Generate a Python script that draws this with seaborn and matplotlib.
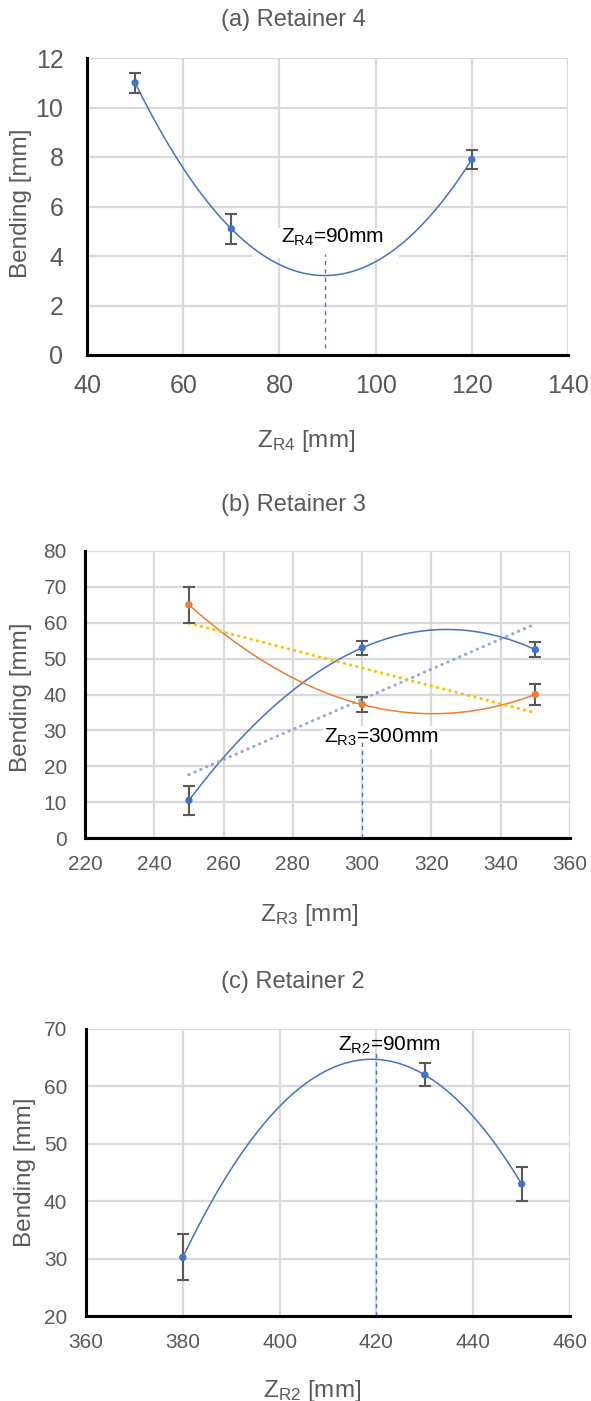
import numpy as np
import matplotlib
matplotlib.use('Agg')
import matplotlib.pyplot as plt
from matplotlib.patches import Rectangle
import seaborn as sns

# ---------------- data ----------------
# (a) Retainer 4
zr4 = [50, 70, 120]
bend_r4 = [11.0, 5.1, 7.9]
err_r4 = [0.4, 0.6, 0.4]

# (b) Retainer 3
zr3 = [250, 300, 350]
bend_r3_blue = [10.5, 53.0, 52.5]
err_r3_blue = [4.0, 2.0, 2.0]
bend_r3_orange = [65.0, 37.2, 40.0]
err_r3_orange = [5.0, 2.0, 3.0]

# (c) Retainer 2
zr2 = [380, 430, 450]
bend_r2 = [30.2, 62.0, 43.0]
err_r2 = [4.0, 2.0, 3.0]

titles = ['(a) Retainer 4', '(b) Retainer 3', '(c) Retainer 2']
xlabels = [r'$Z_{R4}$ [mm]', r'$Z_{R3}$ [mm]', r'$Z_{R2}$ [mm]']
ylabel = 'Bending [mm]'
notes = [r'$Z_{R4}$=90mm', r'$Z_{R3}$=300mm', r'$Z_{R2}$=90mm']
opt_x = [89.5, 300, 420]
opt_span = [(0.3, 4.1), (0.0, 28.0), (20.0, 65.8)]
note_pos = [(91, 4.53), (305.6, 26.6), (422.8, 66.2)]

xlims = [(40, 140), (220, 360), (360, 460)]
ylims = [(0, 12), (0, 80), (20, 70)]
xticks = [np.arange(40, 141, 20), np.arange(220, 361, 20), np.arange(360, 461, 20)]
yticks = [np.arange(0, 13, 2), np.arange(0, 81, 10), np.arange(20, 71, 10)]

# ---------------- style ----------------
sns.set_theme(style='whitegrid')
plt.rcParams['font.family'] = ['Liberation Sans', 'DejaVu Sans']
plt.rcParams['mathtext.default'] = 'regular'
plt.rcParams['axes.axisbelow'] = True

BLUE = '#4472C4'
ORANGE = '#ED7D31'
GOLD = '#FFC000'
LBLUE = '#8EA9DB'
GRAY = '#595959'
GRID = '#D9D9D9'

fig = plt.figure(figsize=(5.91, 14.01), dpi=100)

rects = [
    [87 / 591, 1 - 355 / 1401, 481 / 591, 297 / 1401],
    [85 / 591, 1 - 838 / 1401, 485 / 591, 287 / 1401],
    [86 / 591, 1 - 1316 / 1401, 484 / 591, 287 / 1401],
]
tick_fs = [18, 15, 15]
ypads = [17, 13, 13.5]
xpads = [14, 12.5, 12]
ylab_coords = [(-0.114, 0.51), (-0.109, 0.49), (-0.103, 0.50)]
xlab_coords = [(0.455, -0.245), (0.462, -0.222), (0.467, -0.215)]
title_y = [20, 505, 982]

axes = [fig.add_axes(r) for r in rects]


def series(ax, x, y, err, color, trend=None):
    x = np.asarray(x, float)
    y = np.asarray(y, float)
    sns.regplot(x=x, y=y, order=2, ci=None, scatter=False, color=color,
                line_kws=dict(lw=1.1, zorder=2), ax=ax, truncate=True)
    if trend is not None:
        sns.regplot(x=x, y=y, order=1, ci=None, scatter=False, color=trend,
                    line_kws=dict(lw=2.2, linestyle=(0, (0.1, 2.0)),
                                  dash_capstyle='round', zorder=2),
                    ax=ax, truncate=True)
    ax.errorbar(x, y, yerr=err, fmt='none', ecolor=GRAY, elinewidth=1.5,
                capsize=4.5, capthick=1.5, zorder=3)
    sns.scatterplot(x=x, y=y, color=color, s=28, edgecolor='none',
                    zorder=4, ax=ax, legend=False)


series(axes[0], zr4, bend_r4, err_r4, BLUE)
series(axes[1], zr3, bend_r3_blue, err_r3_blue, BLUE, trend=LBLUE)
series(axes[1], zr3, bend_r3_orange, err_r3_orange, ORANGE, trend=GOLD)
series(axes[2], zr2, bend_r2, err_r2, BLUE)

for i, ax in enumerate(axes):
    ax.set_xlim(*xlims[i])
    ax.set_ylim(*ylims[i])
    ax.set_xticks(xticks[i])
    ax.set_yticks(yticks[i])
    ax.grid(True, color=GRID, lw=1.6)
    for s in ['top', 'right']:
        ax.spines[s].set_visible(False)
    for s in ['left', 'bottom']:
        ax.spines[s].set_visible(True)
        ax.spines[s].set_color('black')
        ax.spines[s].set_linewidth(2.2)
        ax.spines[s].set_zorder(6)
    ax.tick_params(axis='both', length=0, labelsize=tick_fs[i], labelcolor=GRAY)
    ax.tick_params(axis='y', pad=ypads[i])
    ax.tick_params(axis='x', pad=xpads[i])
    ax.set_ylabel(ylabel, fontsize=17.5, color=GRAY)
    ax.set_xlabel(xlabels[i], fontsize=17.5, color=GRAY)
    ax.yaxis.set_label_coords(*ylab_coords[i])
    ax.xaxis.set_label_coords(*xlab_coords[i])
    ax.set_facecolor('white')
    fig.text(0.496, 1 - title_y[i] / 1401, titles[i], ha='center', va='center',
             fontsize=17, color=GRAY)

# annotations
# (a): white mask behind the label (hides grid, curve stays on top)
axes[0].add_patch(Rectangle((74.3, 3.9), 30.5, 1.25, facecolor='white',
                            edgecolor='none', zorder=1.5))
axes[0].text(*note_pos[0], notes[0], ha='center', va='baseline', fontsize=15,
             color='black', zorder=5)
axes[0].plot([opt_x[0]] * 2, opt_span[0], color=BLUE, lw=1.0,
             linestyle=(0, (3, 3)), zorder=4)

axes[1].text(*note_pos[1], notes[1], ha='center', va='baseline', fontsize=15,
             color='black', zorder=5,
             bbox=dict(facecolor='white', edgecolor='none', boxstyle='square,pad=0.05'))
axes[1].plot([opt_x[1]] * 2, opt_span[1], color=BLUE, lw=1.0,
             linestyle=(0, (3, 3)), zorder=6)

axes[2].text(*note_pos[2], notes[2], ha='center', va='baseline', fontsize=15,
             color='black', zorder=5)
axes[2].plot([opt_x[2]] * 2, opt_span[2], color=BLUE, lw=1.0,
             linestyle=(0, (3, 3)), zorder=4)

fig.savefig('out.png', dpi=100, facecolor='white')
